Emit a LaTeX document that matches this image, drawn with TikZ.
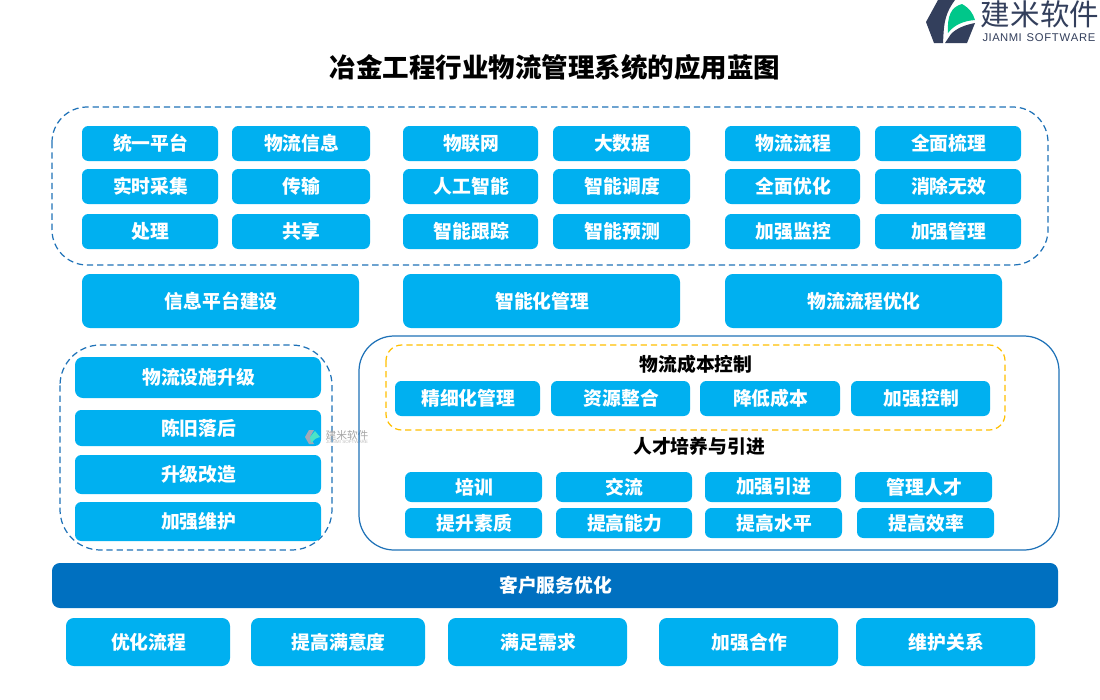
\documentclass[tikz,border=0pt]{standalone}
\usepackage{fontspec}
\setmainfont{Noto Sans CJK SC}
\setsansfont{Liberation Sans}
\usetikzlibrary{positioning}
\definecolor{skyblue}{HTML}{00B0F0}
\definecolor{barblue}{HTML}{0070C0}
\definecolor{lineblue}{HTML}{1F72B8}
\definecolor{dashyellow}{HTML}{FFC000}
\definecolor{logodark}{HTML}{333F5C}
\definecolor{logogreen}{HTML}{00C78A}
\tikzset{
    %one unit is one pixel of the picture
    x=0.02cm,
    y=-0.02cm,
    btn/.style={
      rectangle,
      rounded corners=3.6pt,
      fill=skyblue,
      inner sep=0pt,
      text=white,
      font=\fontsize{10.7pt}{12pt}\selectfont\bfseries},
    btnwide/.style={
      btn,
      rounded corners=4.5pt},
    heading/.style={
      inner sep=0pt,
      text=black,
      font=\fontsize{10.7pt}{12pt}\selectfont\bfseries},
    group/.style={
      draw=lineblue,
      line width=0.7pt,
      dash pattern=on 3.6pt off 2.2pt},
}
% box from its left, top, right and bottom edge
\newcommand{\btnbox}[7][btn]{%
  \node (#2) [#1, minimum width=#5*0.02cm-#3*0.02cm, minimum height=#6*0.02cm-#4*0.02cm]
        at ({(#3+#5)/2},{(#4+#6)/2}) {\kern0.8pt\raisebox{0.9pt}{#7}};}

\begin{document}
\begin{tikzpicture}
    \useasboundingbox (0,0) rectangle (1100,700);
    \fill[white] (0,0) rectangle (1100,700);

    % logo
    \fill[logodark] (938,0) -- (926,22) -- (934,43) -- (943,43) .. controls (944,28) and (943,16) .. (955,0) -- cycle;
    \fill[logogreen] (962,4) .. controls (951,7) and (947,16) .. (948,33) .. controls (954,25) and (963,21) .. (975,20) .. controls (973,13) and (969,8) .. (962,4) -- cycle;
    \fill[logodark] (975,23) -- (967,43) -- (945,43) -- (951,34) .. controls (957,28) and (965,25) .. (975,23) -- cycle;
    \node (logotext) [inner sep=0pt, text=logodark] at (1040,14)
          {\fontsize{16.8pt}{18pt}\selectfont 建米软件};
    \node (logosub) [inner sep=0pt, text=logodark] at (1039,38)
          {\sffamily\fontsize{6.4pt}{8pt}\selectfont J\kern0.25pt I\kern0.25pt A\kern0.25pt N\kern0.25pt M\kern0.25pt I\ \,S\kern0.4pt O\kern0.4pt F\kern0.4pt T\kern0.4pt W\kern0.4pt A\kern0.4pt R\kern0.4pt E};

    \node (title) [inner sep=0pt] at (555,67)
          {\fontsize{15.1pt}{18pt}\selectfont\bfseries 冶金工程行业物流管理系统的应用蓝图};

    % upper block
    \draw[group, rounded corners=20pt] (52,107) rectangle (1048,265);
    \btnbox{platform}{82}{126}{218}{161}{统一平台}
    \btnbox{info}{232}{126}{370}{161}{物流信息}
    \btnbox{iot}{403}{126}{538}{161}{物联网}
    \btnbox{bigdata}{553}{126}{690}{161}{大数据}
    \btnbox{flow}{725}{126}{860}{161}{物流流程}
    \btnbox{review}{875}{126}{1021}{161}{全面梳理}
    \btnbox{collect}{82}{169}{218}{204}{实时采集}
    \btnbox{transfer}{232}{169}{370}{204}{传输}
    \btnbox{ai}{403}{169}{538}{204}{人工智能}
    \btnbox{dispatch}{553}{169}{690}{204}{智能调度}
    \btnbox{optimize}{725}{169}{860}{204}{全面优化}
    \btnbox{remove}{875}{169}{1021}{204}{消除无效}
    \btnbox{process}{82}{214}{218}{249}{处理}
    \btnbox{share}{232}{214}{370}{249}{共享}
    \btnbox{track}{403}{214}{538}{249}{智能跟踪}
    \btnbox{predict}{553}{214}{690}{249}{智能预测}
    \btnbox{monitor}{725}{214}{860}{249}{加强监控}
    \btnbox{manage}{875}{214}{1021}{249}{加强管理}

    \btnbox[btnwide]{infobuild}{82}{274}{359}{328}{信息平台建设}
    \btnbox[btnwide]{smart}{403}{274}{680}{328}{智能化管理}
    \btnbox[btnwide]{flowopt}{725}{274}{1002}{328}{物流流程优化}

    % facilities
    \draw[group, rounded corners=23pt] (60,345) rectangle (332,550);
    \btnbox[btnwide]{facility}{75}{357}{321}{398}{物流设施升级}
    \btnbox{old}{75}{410}{321}{446}{陈旧落后}
    \btnbox{upgrade}{75}{455}{321}{494}{升级改造}
    \btnbox{maintain}{75}{502}{321}{541}{加强维护}

    % watermark
    \fill[logodark!45] (309,430) -- (305,437) -- (309,444) -- (314,444) -- (310,437) -- (314,430) -- cycle;
    \fill[logogreen!70!cyan!70] (315,431) -- (320,437) .. controls (316,438) and (313,440) .. (311,443) -- (310,437) -- cycle;
    \node (marktext) [inner sep=0pt, text=black!35] at (347,435)
          {\fontsize{6.1pt}{7pt}\selectfont 建米软件};
    \node (marksub) [inner sep=0pt, text=black!25] at (347,442)
          {\sffamily\fontsize{2.6pt}{3pt}\selectfont JIANMI SOFTWARE};

    % cost and talent
    \draw[lineblue, line width=0.7pt, rounded corners=20pt] (359,336) rectangle (1059,550);
    \draw[dashyellow, line width=0.7pt, dash pattern=on 3.6pt off 2.2pt, rounded corners=9pt] (386,345) rectangle (1005,430);
    \node (costhead) [heading] at (696,364) {物流成本控制};
    \btnbox{refine}{395}{381}{540}{416}{精细化管理}
    \btnbox{resource}{551}{381}{690}{416}{资源整合}
    \btnbox{reduce}{700}{381}{840}{416}{降低成本}
    \btnbox{control}{851}{381}{990}{416}{加强控制}
    \node (talenthead) [heading] at (699,446.5) {人才培养与引进};
    \btnbox{train}{405}{472}{542}{502}{培训}
    \btnbox{exchange}{556}{472}{692}{502}{交流}
    \btnbox{introduce}{705}{472}{841}{502}{加强引进}
    \btnbox{talent}{855}{472}{992}{502}{管理人才}
    \btnbox{quality}{405}{508}{542}{538}{提升素质}
    \btnbox{ability}{556}{508}{692}{538}{提高能力}
    \btnbox{level}{705}{508}{842}{538}{提高水平}
    \btnbox{efficiency}{857}{508}{994}{538}{提高效率}

    % customer service
    \btnbox[btnwide,fill=barblue]{service}{52}{563}{1058}{608}{客户服务优化}
    \btnbox[btnwide]{simplify}{66}{618}{230}{666}{优化流程}
    \btnbox[btnwide]{satisfy}{251}{618}{425}{666}{提高满意度}
    \btnbox[btnwide]{demand}{448}{618}{627}{666}{满足需求}
    \btnbox[btnwide]{cooperate}{659}{618}{838}{666}{加强合作}
    \btnbox[btnwide]{relation}{856}{618}{1035}{666}{维护关系}
\end{tikzpicture}
\end{document}
